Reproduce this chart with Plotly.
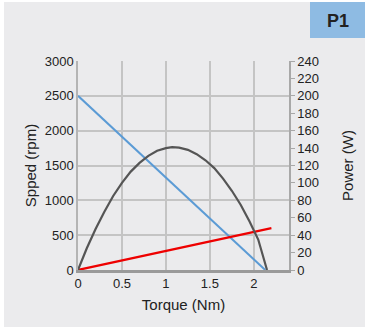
import plotly.graph_objects as go

# Data
speed_torque = [0, 2.13]
speed_rpm = [2500, 0]

power_torque = [0, 0.1, 0.2, 0.3, 0.4, 0.5, 0.6, 0.7, 0.8, 0.9, 1.0, 1.07, 1.15,
                1.25, 1.35, 1.45, 1.55, 1.65, 1.75, 1.85, 1.95, 2.05, 2.15]
power_w = [0, 25, 47, 67, 85, 100, 113, 123, 131, 137, 140, 141, 140.5,
           138, 133, 126, 117, 105, 91, 75, 56, 35, 0]

red_torque = [0, 2.2]
red_rpm = [0, 600]

x_ticks = [0, 0.5, 1, 1.5, 2]
x_ticklabels = ["0", "0.5", "1", "1.5", "2"]

FONT = "Liberation Sans, Arial, sans-serif"

fig = go.Figure()
fig.add_trace(go.Scatter(x=speed_torque, y=speed_rpm, mode="lines",
                         line=dict(color="#5B9BD5", width=2), showlegend=False))
fig.add_trace(go.Scatter(x=power_torque, y=power_w, mode="lines", yaxis="y2",
                         line=dict(color="#555555", width=2.2),
                         showlegend=False))
fig.add_trace(go.Scatter(x=red_torque, y=red_rpm, mode="lines",
                         line=dict(color="#EE0000", width=2.2), showlegend=False))

fig.update_layout(
    width=365, height=329,
    margin=dict(l=78, r=76, t=61, b=59),
    paper_bgcolor="white",
    plot_bgcolor="rgba(0,0,0,0)",
    font=dict(family=FONT, size=13, color="#222222"),
    xaxis=dict(range=[0, 2.4], tickvals=x_ticks, ticktext=x_ticklabels,
               showgrid=True, gridcolor="#C4C4C4", gridwidth=1.5,
               showline=True, linecolor="#9A9A9A", linewidth=2.5,
               ticks="", zeroline=False, automargin=False,
               title=dict(text="Torque (Nm)", font=dict(size=15), standoff=10)),
    yaxis=dict(range=[0, 3000], dtick=500,
               showgrid=True, gridcolor="#C4C4C4", gridwidth=1.5,
               showline=True, linecolor="#B4B4B4", linewidth=1.5,
               ticks="", zeroline=False, automargin=False,
               title=dict(text="Spped (rpm)", font=dict(size=15), standoff=4)),
    yaxis2=dict(range=[0, 240], dtick=20, overlaying="y", side="right",
                showgrid=False, showline=True, linecolor="#A8A8A8", linewidth=1.5,
                ticks="outside", ticklen=4, tickcolor="#A8A8A8", zeroline=False,
                automargin=False,
                title=dict(text="Power (W)", font=dict(size=15), standoff=24)),
    shapes=[
        dict(type="rect", xref="paper", yref="paper", layer="below",
             x0=(4 - 78) / 211, x1=(366 - 78) / 211,
             y0=(270 - 327) / 209, y1=(270 - 2) / 209,
             fillcolor="#EBEBED", line=dict(width=0)),
        dict(type="rect", xref="paper", yref="paper", layer="below",
             x0=(310 - 78) / 211, x1=(366 - 78) / 211,
             y0=(270 - 38) / 209, y1=(270 - 2) / 209,
             fillcolor="#8EBBE3", line=dict(width=0)),
    ],
    annotations=[
        dict(text="<b>P1</b>", xref="paper", yref="paper",
             x=(338 - 78) / 211, y=(270 - 21) / 209, showarrow=False,
             xanchor="center", yanchor="middle",
             font=dict(size=18, color="#222222", family=FONT)),
    ],
)

fig.write_html("out.html", config={"displayModeBar": False},
               post_script="document.body.style.margin='0';document.body.style.overflow='hidden';")
